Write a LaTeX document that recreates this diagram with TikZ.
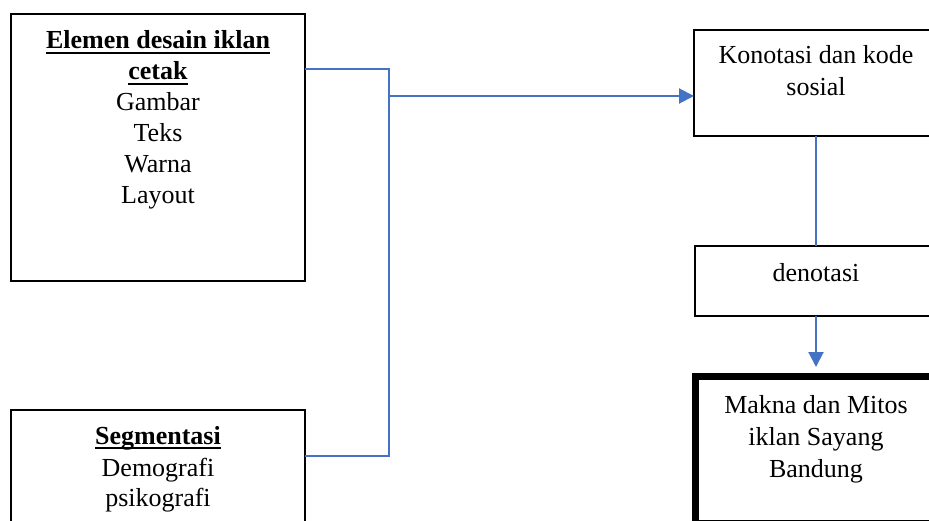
\documentclass[tikz,border=0pt]{standalone}
\usepackage{fontspec}
\setmainfont{Liberation Serif}
\usetikzlibrary{arrows.meta}
\definecolor{wordblue}{HTML}{4472C4}
\newcommand\ulword[1]{\setbox0\hbox{#1}\rlap{\rule[-5pt]{\wd0}{2.4pt}}\box0}
\tikzset{
  boxnode/.style={draw=black, line width=1.6pt, inner sep=0pt, outer sep=0pt, anchor=north west},
  thickbox/.style={draw=black, line width=7pt, inner sep=0pt, outer sep=0pt, anchor=north west},
  txt/.style={anchor=base, inner sep=0pt, font=\fontsize{26}{31}\selectfont},
  thinconn/.style={draw=wordblue, line width=1.2pt},
  conn/.style={draw=wordblue, line width=2pt},
  mainarrow/.style={draw=wordblue, line width=2pt, -{Triangle[length=15pt,width=15pt]}},
}
\begin{document}
\begin{tikzpicture}[x=1pt,y=-1pt]
\useasboundingbox (0,0) rectangle (929,521);
\clip (0,0) rectangle (929,521);
% boxes
\node[boxnode, minimum width=294pt, minimum height=267pt] (elemen) at (11,14) {};
\node[boxnode, minimum width=294pt, minimum height=150pt] (segmen) at (11,410) {};
\node[boxnode, minimum width=244pt, minimum height=106pt] (konotasi) at (694,30) {};
\node[boxnode, minimum width=242pt, minimum height=70pt] (denotasi) at (695,246) {};
\node[thickbox, minimum width=241pt, minimum height=146.8pt] (makna) at (695.5,376.5) {};
% texts
\node[txt] (e1) at (158,49) {\bfseries\ulword{Elemen desain iklan}};
\node[txt] (e2) at (158,80) {\bfseries\ulword{cetak}};
\node[txt] (e3) at (158,111) {Gambar};
\node[txt] (e4) at (158,142) {Teks};
\node[txt] (e5) at (158,173) {Warna};
\node[txt] (e6) at (158,204) {Layout};
\node[txt] (s1) at (158,444) {\bfseries\ulword{Segmentasi}};
\node[txt] (s2) at (158,476) {Demografi};
\node[txt] (s3) at (158,506) {psikografi};
\node[txt] (k1) at (816,64) {Konotasi dan kode};
\node[txt] (k2) at (816,96) {sosial};
\node[txt] (d1) at (816,282) {denotasi};
\node[txt] (m1) at (816,413) {Makna dan Mitos};
\node[txt] (m2) at (816,445) {iklan Sayang};
\node[txt] (m3) at (816,477) {Bandung};
% connectors
\coordinate (jt) at (389,69);
\coordinate (jm) at (389,96);
\coordinate (jb) at (389,456);
\draw[thinconn] (elemen.east |- jt) -- (jt) -- (jb) -- (segmen.east |- jb);
\draw[mainarrow] (jm) -- (konotasi.west |- jm);
\draw[conn] (konotasi.south) -- (denotasi.north);
\draw[mainarrow, shorten >=9.5pt] (denotasi.south) -- (makna.north);
\end{tikzpicture}
\end{document}
